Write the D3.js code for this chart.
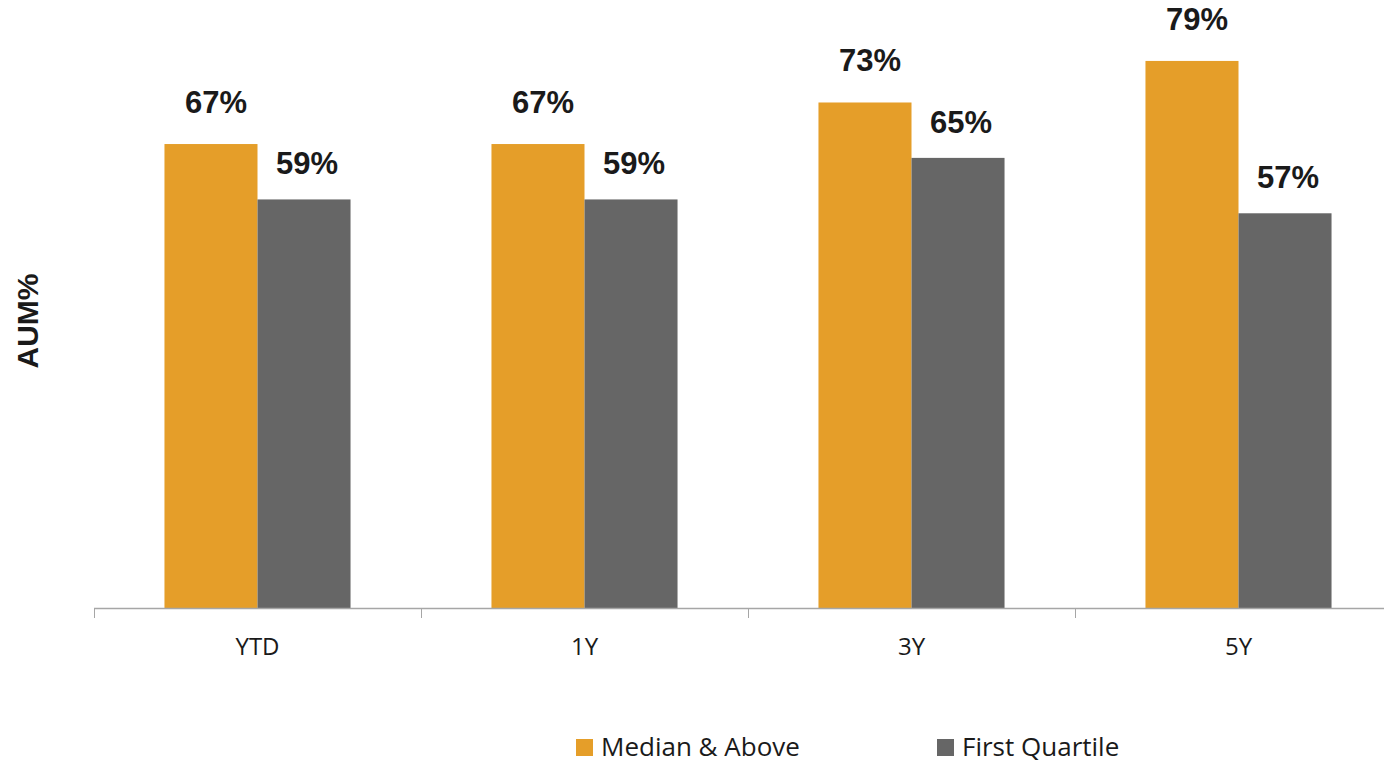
<!DOCTYPE html>
<html>
<head>
<meta charset="utf-8">
<script src="https://cdn.jsdelivr.net/npm/d3@7"></script>
<style>
  html, body { margin: 0; padding: 0; background: #fff; }
  #chart { width: 1384px; height: 763px; }
</style>
</head>
<body>
<div id="chart"></div>
<script>
//Datos
const categories = ['YTD', '1Y', '3Y', '5Y'];
const seriesNames = ['Median & Above', 'First Quartile'];
const medianAbove = [0.67, 0.67, 0.73, 0.79];
const firstQuartile = [0.59, 0.59, 0.65, 0.57];

//Colores fijos
const COLOR_ORANGE = '#E59E29',
COLOR_GREY = '#666666',
COLOR_TEXT = '#1a1a1a',
COLOR_AXIS = '#a6a6a6';

const width = 1384, height = 763;
const baseY = 608;

let svg = d3.select('#chart')
    .append('svg')
        .attr('width', width)
        .attr('height', height);

let x0 = d3.scaleBand()
    .domain(categories)
    .range([94, 1402]);

let bw = x0.bandwidth();
let x1 = d3.scaleBand()
    .domain(seriesNames)
    .range([bw * 0.2155, bw * (1 - 0.2155)]);

let y = d3.scaleLinear()
    .domain([0, 0.878])
    .range([baseY, 0]);

let rows = categories.map(function(c, i) {
    return { cat: c, values: [
        { key: seriesNames[0], v: medianAbove[i], color: COLOR_ORANGE, dy: 31, dx: 5 },
        { key: seriesNames[1], v: firstQuartile[i], color: COLOR_GREY, dy: 25, dx: 3 }
    ]};
});

// Barras
let groups = svg.selectAll('.grp')
    .data(rows)
    .enter().append('g')
        .attr('class', 'grp')
        .attr('transform', function(d) { return 'translate(' + x0(d.cat) + ',0)'; });

groups.selectAll('rect')
    .data(function(d) { return d.values; })
    .enter().append('rect')
        .attr('x', function(d) { return x1(d.key); })
        .attr('y', function(d) { return y(d.v); })
        .attr('width', x1.bandwidth())
        .attr('height', function(d) { return baseY - y(d.v); })
        .attr('fill', function(d) { return d.color; });

groups.selectAll('text')
    .data(function(d) { return d.values; })
    .enter().append('text')
        .attr('x', function(d) { return x1(d.key) + x1.bandwidth() / 2 + d.dx; })
        .attr('y', function(d) { return y(d.v) - d.dy; })
        .attr('text-anchor', 'middle')
        .attr('font-family', 'Liberation Sans, Arial, sans-serif')
        .attr('font-weight', 'bold')
        .attr('font-size', 31)
        .attr('fill', COLOR_TEXT)
        .text(function(d) { return Math.round(d.v * 100) + '%'; });

// Eje X
svg.append('line')
    .attr('x1', 94).attr('x2', width)
    .attr('y1', baseY + 0.5).attr('y2', baseY + 0.5)
    .attr('stroke', COLOR_AXIS).attr('stroke-width', 1.5);

svg.selectAll('.tick-line')
    .data(categories)
    .enter().append('line')
        .attr('class', 'tick-line')
        .attr('x1', function(d) { return Math.round(x0(d)) + 0.5; })
        .attr('x2', function(d) { return Math.round(x0(d)) + 0.5; })
        .attr('y1', baseY)
        .attr('y2', baseY + 10)
        .attr('stroke', COLOR_AXIS).attr('stroke-width', 1);

svg.selectAll('.tick-label')
    .data(categories)
    .enter().append('text')
        .attr('class', 'tick-label')
        .attr('x', function(d) { return x0(d) + bw / 2; })
        .attr('y', 655)
        .attr('text-anchor', 'middle')
        .attr('font-family', 'Open Sans, sans-serif')
        .attr('font-size', 24)
        .attr('fill', COLOR_TEXT)
        .text(function(d) { return d; });

// Titulo eje Y
svg.append('text')
    .attr('transform', 'translate(38,321) rotate(-90)')
    .attr('text-anchor', 'middle')
    .attr('font-family', 'Liberation Sans, Arial, sans-serif')
    .attr('font-weight', 'bold')
    .attr('font-size', 30)
    .attr('fill', COLOR_TEXT)
    .text('AUM%');

// Leyenda
let legendX = [576, 937];
let legend = svg.selectAll('.legend')
    .data(seriesNames)
    .enter().append('g')
        .attr('class', 'legend')
        .attr('transform', function(d, i) { return 'translate(' + legendX[i] + ',739)'; });

legend.append('rect')
    .attr('width', 17).attr('height', 17)
    .attr('fill', function(d, i) { return i === 0 ? COLOR_ORANGE : COLOR_GREY; });

legend.append('text')
    .attr('x', 25)
    .attr('y', 17)
    .attr('font-family', 'Open Sans, sans-serif')
    .attr('font-size', 26)
    .attr('fill', COLOR_TEXT)
    .text(function(d) { return d; });
</script>
</body>
</html>
